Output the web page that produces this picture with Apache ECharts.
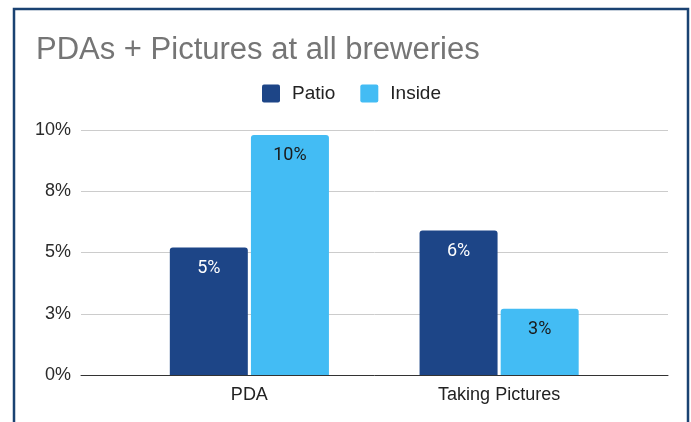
<!DOCTYPE html>
<html>
<head>
<meta charset="utf-8">
<script src="https://cdn.jsdelivr.net/npm/echarts@6/dist/echarts.min.js"></script>
<style>
  html, body { margin: 0; padding: 0; background: #ffffff; }
  #chart { width: 691px; height: 422px; }
</style>
</head>
<body>
<div id="chart"></div>
<script>
// Chart data
const categories = ['PDA', 'Taking Pictures'];
const seriesNames = ['Patio', 'Inside'];
const patioValues = [5.2, 5.9];
const insideValues = [9.8, 2.7];
const yTickValues = [0, 2.5, 5, 7.5, 10];
const yTickLabels = ['0%', '3%', '5%', '8%', '10%'];

const PATIO_COLOR = '#1d4587';
const INSIDE_COLOR = '#43bcf4';
const SANS = 'Liberation Sans, Arial, sans-serif';

const chart = echarts.init(document.getElementById('chart'), null, { renderer: 'canvas' });

function tickLabel(v) {
  const i = yTickValues.indexOf(v);
  return i >= 0 ? yTickLabels[i] : '';
}

chart.setOption({
  animation: false,
  backgroundColor: '#ffffff',
  graphic: [{
    type: 'rect',
    shape: { x: 14, y: 9, width: 674, height: 440 },
    style: { fill: 'none', stroke: '#1a4272', lineWidth: 2.5 },
    silent: true
  }],
  title: {
    text: 'PDAs + Pictures at all breweries',
    left: 36,
    top: 35,
    padding: 0,
    textStyle: {
      fontFamily: SANS,
      fontSize: 31,
      fontWeight: 'normal',
      color: '#757575',
      lineHeight: 30
    }
  },
  legend: {
    data: seriesNames,
    left: 262,
    top: 84,
    padding: 0,
    itemWidth: 18,
    itemHeight: 18,
    itemGap: 25,
    icon: 'path://M2,0 L16,0 Q18,0 18,2 L18,16 Q18,18 16,18 L2,18 Q0,18 0,16 L0,2 Q0,0 2,0 Z',
    textStyle: {
      fontFamily: SANS,
      fontSize: 19,
      color: '#222222',
      padding: [0, 0, 0, 7]
    }
  },
  grid: [
    { left: 81, right: 23, top: 130, bottom: 47 },
    { left: 124.5, right: 67, top: 130, bottom: 47 }
  ],
  xAxis: [
    {
      gridIndex: 0,
      type: 'category',
      data: [''],
      axisLine: { show: true, lineStyle: { color: '#333333', width: 1 } },
      axisTick: { show: false },
      axisLabel: { show: false },
      splitLine: { show: false }
    },
    {
      gridIndex: 1,
      type: 'category',
      data: categories,
      axisLine: { show: false },
      axisTick: { show: false },
      axisLabel: {
        margin: 11,
        fontFamily: SANS,
        fontSize: 18,
        color: '#222222'
      }
    }
  ],
  yAxis: [
    {
      gridIndex: 0,
      type: 'value',
      min: 0,
      max: 10,
      interval: 2.5,
      axisLine: { show: false },
      axisTick: { show: false },
      axisLabel: {
        margin: 10,
        formatter: tickLabel,
        fontFamily: SANS,
        fontSize: 18,
        color: '#2a2a2a'
      },
      splitLine: { show: true, lineStyle: { color: '#cccccc', width: 1 } }
    },
    {
      gridIndex: 1,
      type: 'value',
      min: 0,
      max: 10,
      interval: 2.5,
      show: false,
      splitLine: { show: false }
    }
  ],
  series: [
    {
      name: 'Patio',
      type: 'bar',
      xAxisIndex: 1,
      yAxisIndex: 1,
      data: patioValues,
      barWidth: 78,
      barGap: '4%',
      itemStyle: { color: PATIO_COLOR, borderRadius: [3, 3, 0, 0] },
      label: {
        show: true,
        position: 'insideTop',
        distance: 12,
        formatter: p => Math.round(p.value) + '%',
        fontFamily: 'Roboto, Arial, sans-serif',
        fontSize: 18,
        color: '#ffffff'
      }
    },
    {
      name: 'Inside',
      type: 'bar',
      xAxisIndex: 1,
      yAxisIndex: 1,
      data: insideValues,
      barWidth: 78,
      barGap: '4%',
      itemStyle: { color: INSIDE_COLOR, borderRadius: [3, 3, 0, 0] },
      label: {
        show: true,
        position: 'insideTop',
        distance: 12,
        formatter: p => Math.round(p.value) + '%',
        fontFamily: 'Roboto, Arial, sans-serif',
        fontSize: 18,
        color: '#1a1a1a'
      }
    }
  ]
});
</script>
</body>
</html>
